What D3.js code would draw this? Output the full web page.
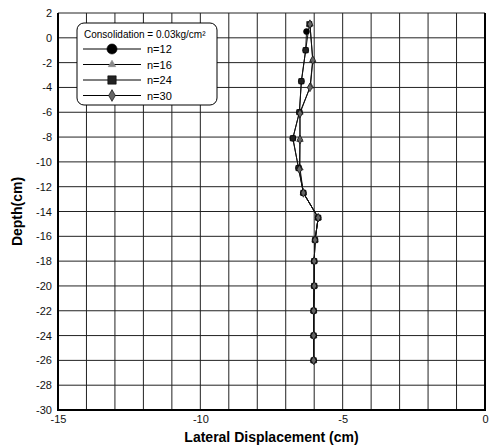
<!DOCTYPE html>
<html>
<head>
<meta charset="utf-8">
<script src="https://cdn.jsdelivr.net/npm/d3@7"></script>
<style>
  body { margin: 0; background: #fff; }
  svg { display: block; font-family: "Liberation Sans", Arial, sans-serif; }
</style>
</head>
<body>
<div id="chart"></div>
<script>
// Lateral displacement profiles, x = displacement (cm), y = depth (cm)
const seriesNames = ["n=12", "n=16", "n=24", "n=30"];

const n12 = [[-6.27, 0.5], [-6.3, -1], [-6.45, -3.5], [-6.52, -6], [-6.75, -8.1], [-6.55, -10.5],
  [-6.38, -12.5], [-5.86, -14.5], [-5.97, -16.3], [-6.0, -18], [-6.0, -20], [-6.02, -22], [-6.02, -24], [-6.02, -26]];
const n16 = [[-6.15, 1.1], [-6.05, -1.8], [-6.13, -3.9], [-6.5, -6], [-6.5, -8.2], [-6.5, -10.5],
  [-6.38, -12.5], [-5.86, -14.5], [-5.97, -16.3], [-6.0, -18], [-6.0, -20], [-6.02, -22], [-6.02, -24], [-6.02, -26]];
const n24 = [[-6.17, 1.1], [-6.3, -1], [-6.45, -3.5], [-6.52, -6], [-6.75, -8.1], [-6.55, -10.5],
  [-6.38, -12.5], [-5.86, -14.5], [-5.97, -16.3], [-6.0, -18], [-6.0, -20], [-6.02, -22], [-6.02, -24], [-6.02, -26]];
const n30 = [[-6.15, 1.1], [-6.05, -1.8], [-6.15, -4], [-6.5, -6.1], [-6.5, -8.2], [-6.52, -10.6],
  [-6.38, -12.5], [-5.86, -14.5], [-5.97, -16.3], [-6.0, -18], [-6.0, -20], [-6.02, -22], [-6.02, -24], [-6.02, -26]];

const xTicks = [-15, -10, -5, 0];
const yTicks = d3.range(2, -31, -2);
const legendTitle = "Consolidation = 0.03kg/cm²";

const width = 491, height = 448;
const margin = { left: 58, right: 6, top: 13, bottom: 38 };

const svg = d3.select('#chart').append('svg')
  .attr('width', width)
  .attr('height', height);

const x = d3.scaleLinear().domain([-15, 0]).range([margin.left, width - margin.right]);
const y = d3.scaleLinear().domain([-30, 2]).range([height - margin.bottom, margin.top]);

// grid
const grid = svg.append('g');
grid.selectAll('line.v')
  .data(d3.range(-15, 1, 1))
  .join('line')
  .attr('x1', d => x(d)).attr('x2', d => x(d))
  .attr('y1', y(2)).attr('y2', y(-30))
  .attr('stroke', '#222').attr('stroke-width', 1);
grid.selectAll('line.h')
  .data(yTicks)
  .join('line')
  .attr('x1', x(-15)).attr('x2', x(0))
  .attr('y1', d => y(d)).attr('y2', d => y(d))
  .attr('stroke', '#222').attr('stroke-width', 1);

// frame: heavier left, bottom and right
svg.append('line').attr('x1', x(-15)).attr('x2', x(-15)).attr('y1', y(2)).attr('y2', y(-30))
  .attr('stroke', '#000').attr('stroke-width', 2);
svg.append('line').attr('x1', x(-15) - 1).attr('x2', x(0) + 1).attr('y1', y(-30)).attr('y2', y(-30))
  .attr('stroke', '#000').attr('stroke-width', 2);
svg.append('line').attr('x1', x(0)).attr('x2', x(0)).attr('y1', y(2)).attr('y2', y(-30))
  .attr('stroke', '#000').attr('stroke-width', 2);

// axes (labels only), plain hyphen for minus like the original
const fmt = d => String(d);
const xAxis = svg.append('g')
  .attr('transform', `translate(0,${y(-30)})`)
  .call(d3.axisBottom(x).tickValues(xTicks).tickSize(0).tickPadding(5).tickFormat(fmt));
const yAxis = svg.append('g')
  .attr('transform', `translate(${x(-15)},0)`)
  .call(d3.axisLeft(y).tickValues(yTicks).tickSize(0).tickPadding(6).tickFormat(fmt));
[xAxis, yAxis].forEach(a => {
  a.select('.domain').remove();
  a.selectAll('text').attr('font-size', 11).attr('fill', '#111')
    .style('font-family', '"Liberation Sans", Arial, sans-serif');
});

svg.append('text')
  .attr('x', (x(-15) + x(0)) / 2).attr('y', 442)
  .attr('text-anchor', 'middle')
  .attr('font-size', 14).attr('font-weight', 'bold')
  .text('Lateral Displacement (cm)');
svg.append('text')
  .attr('transform', `translate(22,${(y(2) + y(-30)) / 2}) rotate(-90)`)
  .attr('text-anchor', 'middle')
  .attr('font-size', 14).attr('font-weight', 'bold')
  .text('Depth(cm)');

// series
const allSeries = [n12, n16, n24, n30];
const symbols = [d3.symbolCircle, d3.symbolTriangle, d3.symbolSquare, d3.symbolDiamond];
const symSizes = [28, 18, 28, 22];
const markFill = ['#000', '#888', '#222', '#666'];

const line = d3.line().x(d => x(d[0])).y(d => y(d[1]));

allSeries.forEach((data, i) => {
  svg.append('path')
    .datum(data)
    .attr('d', line)
    .attr('fill', 'none')
    .attr('stroke', '#111')
    .attr('stroke-width', 1);
});
allSeries.forEach((data, i) => {
  svg.append('g').selectAll('path')
    .data(data)
    .join('path')
    .attr('transform', d => `translate(${x(d[0])},${y(d[1])})`)
    .attr('d', d3.symbol(symbols[i], symSizes[i]))
    .attr('fill', markFill[i])
    .attr('stroke', '#000')
    .attr('stroke-width', 0.6);
});

// legend
const lg = svg.append('g').attr('transform', 'translate(77,23)');
lg.append('rect')
  .attr('width', 140).attr('height', 82)
  .attr('rx', 7).attr('ry', 7)
  .attr('fill', '#fff').attr('stroke', '#000').attr('stroke-width', 1);
lg.append('text')
  .attr('x', 7).attr('y', 15)
  .attr('font-size', 10)
  .text(legendTitle);
seriesNames.forEach((name, i) => {
  const ry = 26 + i * 15.5;
  lg.append('line')
    .attr('x1', 6).attr('x2', 64).attr('y1', ry).attr('y2', ry)
    .attr('stroke', '#000').attr('stroke-width', 1);
  lg.append('path')
    .attr('transform', `translate(35,${ry})`)
    .attr('d', d3.symbol(symbols[i], [80, 24, 70, 40][i]))
    .attr('fill', markFill[i])
    .attr('stroke', i === 1 ? '#888' : '#000')
    .attr('stroke-width', 0.6);
  lg.append('text')
    .attr('x', 70).attr('y', ry + 4)
    .attr('font-size', 11)
    .text(name);
});
</script>
</body>
</html>
